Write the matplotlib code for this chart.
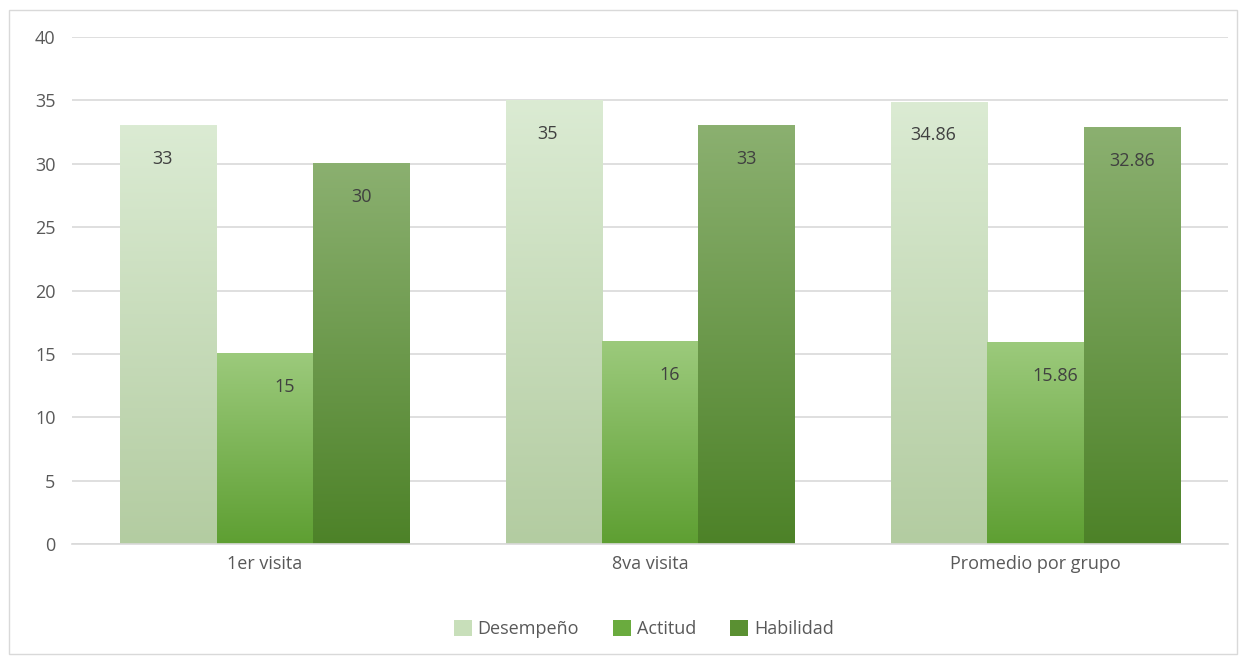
import numpy as np
import matplotlib.pyplot as plt
from matplotlib.colors import LinearSegmentedColormap
from matplotlib.patches import Rectangle, Patch

categories = ["1er visita", "8va visita", "Promedio por grupo"]
series = ["Desempeño", "Actitud", "Habilidad"]
desempeno = [33, 35, 34.86]
actitud = [15, 16, 15.86]
habilidad = [30, 33, 32.86]
labels_txt = [["33", "35", "34.86"], ["15", "16", "15.86"], ["30", "33", "32.86"]]

# gradient top -> bottom for each series
grads = [("#dbebd3", "#b3cca1"), ("#9cca7c", "#5e9f32"), ("#8bb070", "#4d8228")]
legend_cols = ["#c8dfba", "#6aab3e", "#5a9032"]

plt.rcParams["font.family"] = ["Open Sans", "DejaVu Sans"]

fig = plt.figure(figsize=(12.43, 6.61), dpi=100)
ax = fig.add_axes([0.058, 0.177, 0.930, 0.767])

x = np.arange(len(categories))
w = 0.25
values = [desempeno, actitud, habilidad]
dx_px = [-6, 20, 0]

for i, vals in enumerate(values):
    bars = ax.bar(x + (i - 1) * w, vals, w, color="none", edgecolor="none", zorder=2)
    cmap = LinearSegmentedColormap.from_list("g%d" % i, [grads[i][1], grads[i][0]])
    for b, lab in zip(bars, labels_txt[i]):
        x0, y0 = b.get_x(), b.get_y()
        x1, y1 = x0 + b.get_width(), y0 + b.get_height()
        grad = np.linspace(0, 1, 256).reshape(-1, 1)
        ax.imshow(grad, cmap=cmap, origin="lower", aspect="auto",
                  extent=(x0, x1, y0, y1), zorder=2)
        ax.annotate(lab, (x0 + b.get_width() / 2, y1), xytext=(dx_px[i] * 0.72, -24),
                    textcoords="offset points", ha="center", va="center",
                    fontsize=13, color="#404040", zorder=4)

ax.set_xlim(-0.5, 2.5)
ax.set_ylim(0, 40)
ax.set_yticks(range(0, 41, 5))
ax.set_xticks(x)
ax.set_xticklabels(categories)
ax.tick_params(axis="both", length=0, labelsize=13, colors="#595959")
ax.tick_params(axis="y", pad=12)
ax.tick_params(axis="x", pad=8)
ax.grid(axis="y", color="#d9d9d9", linewidth=1.2, zorder=0)
ax.set_axisbelow(True)
for s in ["top", "right", "left"]:
    ax.spines[s].set_visible(False)
ax.spines["bottom"].set_color("#d9d9d9")
ax.spines["bottom"].set_linewidth(1.2)

handles = [Patch(facecolor=c, edgecolor="none") for c in legend_cols]
fig.legend(handles, series, loc="center", bbox_to_anchor=(0.518, 0.048), ncol=3,
           frameon=False, fontsize=13, handlelength=1.0, handleheight=1.0,
           handletextpad=0.3, columnspacing=1.9, labelcolor="#595959")

fig.patches.append(Rectangle((0.007, 0.01), 0.988, 0.975, transform=fig.transFigure,
                             fill=False, edgecolor="#d9d9d9", linewidth=1))

fig.savefig("out.png", dpi=100)
